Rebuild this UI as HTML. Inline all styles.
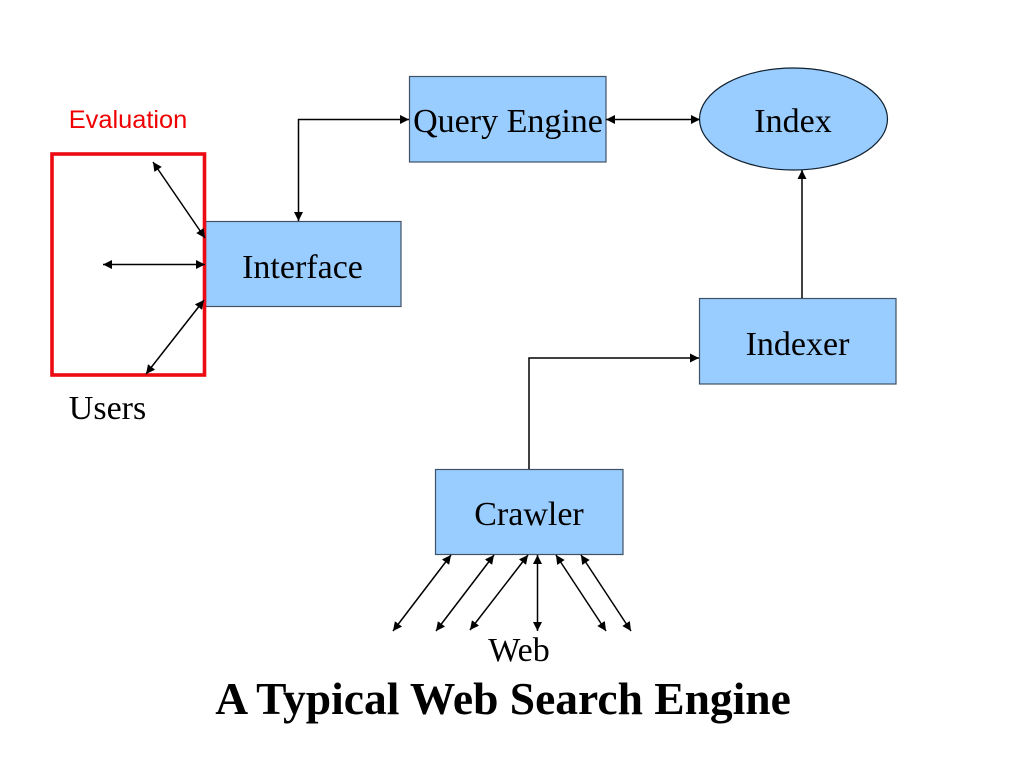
<!DOCTYPE html>
<html>
<head>
<meta charset="utf-8">
<style>
html,body{margin:0;padding:0;background:#fff;width:1024px;height:768px;overflow:hidden}
svg{display:block}
.s{font-family:"Liberation Serif",serif;font-size:34px;fill:#000;text-anchor:middle}
</style>
</head>
<body>
<svg width="1024" height="768" viewBox="0 0 1024 768" xmlns="http://www.w3.org/2000/svg">
<defs>
<marker id="a" viewBox="0 0 9 9" refX="9" refY="4.5" markerWidth="9" markerHeight="9" markerUnits="userSpaceOnUse" orient="auto-start-reverse">
<path d="M0 0L9 4.5L0 9Z" fill="#000"/>
</marker>
</defs>
<g fill="#99ccff" stroke="#3f5266" stroke-width="1.2">
<rect x="409.5" y="76.5" width="196.5" height="85.5"/>
<rect x="205.5" y="221.5" width="195.5" height="85"/>
<rect x="699.5" y="298.5" width="196.5" height="85.5"/>
<rect x="435.5" y="469.5" width="187.5" height="85"/>
<ellipse cx="793.5" cy="119" rx="94" ry="51" stroke="#10202e"/>
</g>
<rect x="52" y="154" width="152.5" height="221" fill="none" stroke="#ec0b12" stroke-width="3.6"/>
<g fill="none" stroke="#000" stroke-width="1.5">
<path d="M298.500 221V119.500H409" marker-start="url(#a)" marker-end="url(#a)"/>
<path d="M606 119.500H700" marker-start="url(#a)" marker-end="url(#a)"/>
<path d="M802 298V170" marker-end="url(#a)"/>
<path d="M529 469V358H699" marker-end="url(#a)"/>
<path d="M153 162L205 238" marker-start="url(#a)" marker-end="url(#a)"/>
<path d="M103 264.500H205" marker-start="url(#a)" marker-end="url(#a)"/>
<path d="M146 374L204 300" marker-start="url(#a)" marker-end="url(#a)"/>
<path d="M393 631L451 555" marker-start="url(#a)" marker-end="url(#a)"/>
<path d="M436 631L494 555" marker-start="url(#a)" marker-end="url(#a)"/>
<path d="M470 630L528 555" marker-start="url(#a)" marker-end="url(#a)"/>
<path d="M537.500 555V631" marker-start="url(#a)" marker-end="url(#a)"/>
<path d="M556 555L606 631" marker-start="url(#a)" marker-end="url(#a)"/>
<path d="M581 555L631 631" marker-start="url(#a)" marker-end="url(#a)"/>
</g>
<text class="s" x="508" y="132">Query Engine</text>
<text class="s" x="793" y="132">Index</text>
<text class="s" x="302.500" y="278">Interface</text>
<text class="s" x="797.500" y="355">Indexer</text>
<text class="s" x="529" y="525">Crawler</text>
<text class="s" x="107.500" y="419">Users</text>
<text class="s" x="519" y="661">Web</text>
<text x="128" y="128" font-family="'Liberation Sans',sans-serif" font-size="25.400" fill="#f00000" text-anchor="middle">Evaluation</text>
<text x="503" y="714" font-family="'Liberation Serif',serif" font-size="45.500" font-weight="bold" fill="#000" text-anchor="middle">A Typical Web Search Engine</text>
</svg>
</body>
</html>
